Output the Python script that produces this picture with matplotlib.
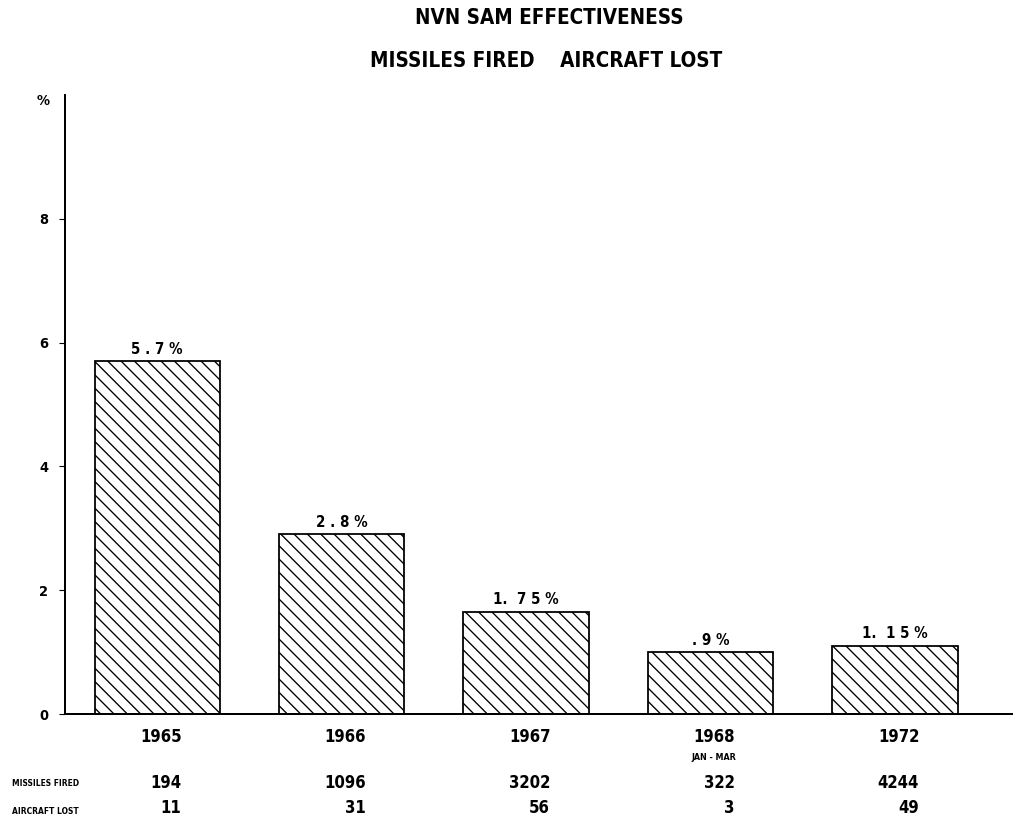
import matplotlib
matplotlib.use("Agg")
import matplotlib.pyplot as plt
import matplotlib.transforms as mtransforms

# data
years = ["1965", "1966", "1967", "1968", "1972"]
year_notes = ["", "", "", "JAN - MAR", ""]
pct_drawn = [5.7, 2.9, 1.65, 1.0, 1.1]   # bar heights as drawn
pct_labels = ["5 . 7 %", "2 . 8 %", "1.  7 5 %", ". 9 %", "1.  1 5 %"]
missiles_fired = [194, 1096, 3202, 322, 4244]
aircraft_lost = [11, 31, 56, 3, 49]
yticks = [0, 2, 4, 6, 8]

DPI = 80
W, H = 1013, 822

plt.rcParams["font.family"] = ["DejaVu Sans"]
plt.rcParams["font.stretch"] = "condensed"
plt.rcParams["font.weight"] = "bold"
plt.rcParams["hatch.linewidth"] = 1.2

fig = plt.figure(figsize=(W / DPI, H / DPI), dpi=DPI)
ax = fig.add_axes([65 / W, 1 - 714 / H, 1 - 65 / W, (714 - 95) / H])

x = list(range(len(years)))
ax.bar(x, pct_drawn, width=0.68, color="white", edgecolor="black",
       linewidth=1.6, hatch="\\\\")

for xi, h, lab in zip(x, pct_drawn, pct_labels):
    ax.annotate(lab, (xi, h), xytext=(0, 4), textcoords="offset points",
                ha="center", va="bottom", fontsize=13.5, fontweight="bold")

ax.set_xlim(-0.5, 4.64)
ax.set_ylim(0, 10)
ax.set_yticks(yticks)
ax.set_yticklabels([str(t) for t in yticks], fontsize=13, fontweight="bold")
ax.set_xticks([])
ax.tick_params(axis="y", length=5, width=1, pad=10)
ax.spines["top"].set_visible(False)
ax.spines["right"].set_visible(False)
ax.spines["left"].set_linewidth(1.8)
ax.spines["bottom"].set_linewidth(1.8)

# text below the axis: x in data units, y in figure units
tr = mtransforms.blended_transform_factory(ax.transData, fig.transFigure)

def fy(py):
    return 1 - py / H

for xi, yr, note in zip(x, years, year_notes):
    ax.text(xi + 0.02, fy(737), yr, transform=tr, ha="center", va="center",
            fontsize=15, fontweight="bold")
    if note:
        ax.text(xi + 0.02, fy(757), note, transform=tr, ha="center",
                va="center", fontsize=8, fontweight="bold")

for xi, mf, al in zip(x, missiles_fired, aircraft_lost):
    ax.text(xi + 0.13, fy(783), str(mf), transform=tr, ha="right",
            va="center", fontsize=15, fontweight="bold")
    ax.text(xi + 0.13, fy(808), str(al), transform=tr, ha="right",
            va="center", fontsize=15, fontweight="bold")

fig.text(12 / W, fy(784), "MISSILES FIRED", ha="left", va="center",
         fontsize=7.5, fontweight="bold")
fig.text(12 / W, fy(812), "AIRCRAFT LOST", ha="left", va="center",
         fontsize=7.5, fontweight="bold")

fig.text(549 / W, fy(18), "NVN SAM EFFECTIVENESS", ha="center", va="center",
         fontsize=18.5, fontweight="bold")
fig.text(546 / W, fy(61), "MISSILES FIRED    AIRCRAFT LOST", ha="center",
         va="center", fontsize=18.5, fontweight="bold")
fig.text(43 / W, fy(101), "%", ha="center", va="center", fontsize=13,
         fontweight="bold")

fig.savefig("out.png", dpi=DPI)
